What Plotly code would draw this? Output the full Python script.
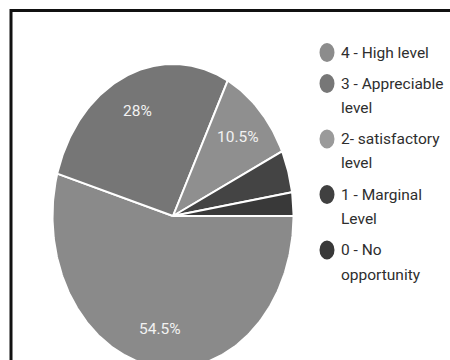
import numpy as np
import plotly.graph_objects as go

# Survey response shares (percent), in legend order
labels = ["4 - High level", "3 - Appreciable<br>level", "2- satisfactory<br>level",
          "1 - Marginal<br>Level", "0 - No<br>opportunity"]
shares = [54.5, 28.0, 10.5, 4.5, 2.5]
colors = ["#8a8a8a", "#767676", "#8f8f8f", "#444444", "#393939"]
legend_colors = ["#8c8c8c", "#777777", "#9a9a9a", "#404040", "#383838"]

W, H = 450, 360
# pie placement in pixels (centre and the two radii of the stretched pie)
cx, cy, rx, ry = 173.0, 216.0, 120.5, 152.0

fig = go.Figure()

total = float(sum(shares))
start = 0.0
label_frac = 0.75
for lab, val, col in zip(labels, shares, colors):
    a0 = start / total * 2 * np.pi
    a1 = (start + val) / total * 2 * np.pi
    t = np.linspace(a0, a1, max(8, int(val * 4)))
    # clockwise from 3 o'clock on a unit circle
    xs = np.concatenate([[0.0], np.cos(-t), [0.0]])
    ys = np.concatenate([[0.0], np.sin(-t), [0.0]])
    fig.add_trace(go.Scatter(
        x=xs, y=ys, mode="lines", fill="toself", fillcolor=col,
        line=dict(color="white", width=2), hoverinfo="skip",
        showlegend=False, name=lab.replace("<br>", " ")))
    if val >= 8:
        am = -(a0 + a1) / 2
        fig.add_annotation(
            x=label_frac * np.cos(am), y=label_frac * np.sin(am),
            text=f"{val:g}%", showarrow=False,
            font=dict(family="Roboto", size=15.5, color="#f2f2f2"),
            xanchor="center", yanchor="middle")
    start += val

# Legend drawn beside the pie: one marker per entry, one text line per row
marker_x = 327
text_x = 339
first_line_y = 52.5
line_step = 24.5
entry_gap = 6.5
y = first_line_y
shapes = []
for lab, col in zip(labels, legend_colors):
    lines = lab.split("<br>")
    shapes.append(dict(type="circle", xref="paper", yref="paper",
                       x0=(marker_x - 7.5) / W, x1=(marker_x + 7.5) / W,
                       y0=1 - (y + 9.5) / H, y1=1 - (y - 9.5) / H,
                       fillcolor=col, line=dict(width=0)))
    for ln in lines:
        fig.add_annotation(x=text_x / W, y=1 - y / H, xref="paper", yref="paper",
                           text=ln, showarrow=False, xanchor="left", yanchor="middle",
                           font=dict(family="Roboto", size=15.5, color="#2e2e2e"))
        y += line_step
    y += entry_gap

# black frame running off the right and bottom edges
shapes.append(dict(type="rect", xref="paper", yref="paper",
                   x0=11 / W, x1=1.2, y0=-0.2, y1=1 - 10.5 / H,
                   line=dict(color="#111111", width=3), fillcolor="rgba(0,0,0,0)",
                   layer="above"))

fig.update_layout(
    width=W, height=H, autosize=False,
    margin=dict(l=0, r=0, t=0, b=0, pad=0),
    paper_bgcolor="white", plot_bgcolor="white",
    showlegend=False, shapes=shapes,
    xaxis=dict(range=[-cx / rx, (W - cx) / rx], visible=False, fixedrange=True),
    yaxis=dict(range=[(cy - H) / ry, cy / ry], visible=False, fixedrange=True),
)

fig.write_html("out.html")
